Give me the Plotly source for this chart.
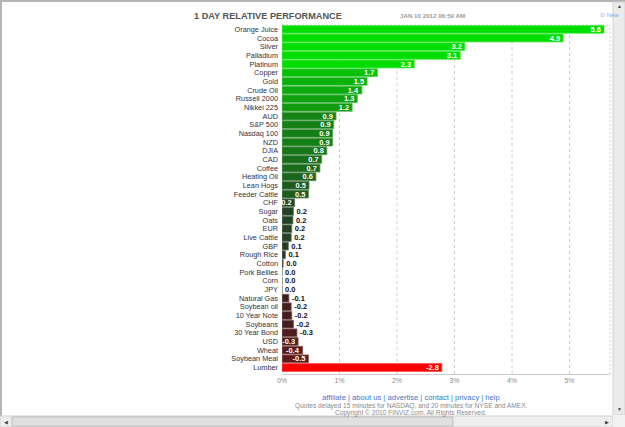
import plotly.graph_objects as go

names = ["Orange Juice", "Cocoa", "Silver", "Palladium", "Platinum", "Copper", "Gold",
         "Crude Oil", "Russell 2000", "Nikkei 225", "AUD", "S&P 500", "Nasdaq 100", "NZD",
         "DJIA", "CAD", "Coffee", "Heating Oil", "Lean Hogs", "Feeder Cattle", "CHF",
         "Sugar", "Oats", "EUR", "Live Cattle", "GBP", "Rough Rice", "Cotton",
         "Pork Bellies", "Corn", "JPY", "Natural Gas", "Soybean oil", "10 Year Note",
         "Soybeans", "30 Year Bond", "USD", "Wheat", "Soybean Meal", "Lumber"]
values = [5.6, 4.89, 3.18, 3.1, 2.3, 1.66, 1.48, 1.39, 1.31, 1.22, 0.94, 0.9, 0.88, 0.88,
          0.78, 0.69, 0.66, 0.59, 0.47, 0.46, 0.22, 0.2, 0.19, 0.17, 0.16, 0.11, 0.06, 0.02,
          0.0, 0.0, 0.0, -0.12, -0.16, -0.17, -0.2, -0.26, -0.28, -0.36, -0.46, -2.78]
x_ticks = [0, 1, 2, 3, 4, 5]
x_tick_text = ["0%", "1%", "2%", "3%", "4%", "5%"]

W, H = 625, 427
L, R, T, B = 282, 15, 25, 53
PW, PH = W - L - R, H - T - B
FONT = "Liberation Sans, Arial, sans-serif"


def pxx(x):
    return (x - L) / PW


def pxy(y):
    return (H - B - y) / PH


def mix_rgb(c0, c1, t):
    t = max(0.0, min(1.0, t))
    return tuple(round(a + (b - a) * t) for a, b in zip(c0, c1))


def rgb(c):
    return "rgb(%d,%d,%d)" % c


def base_color(v):
    if v >= 0:
        return mix_rgb((40, 50, 40), (0, 222, 0), v / 2.0)
    return mix_rgb((52, 32, 32), (250, 0, 0), -v / 2.0)


mags = [abs(v) for v in values]
labels = ["%.1f" % v for v in values]
colors = [rgb(base_color(v)) for v in values]
edge_colors = [rgb(mix_rgb(base_color(v), (255, 255, 255), 0.3)) for v in values]
inside = [abs(v) * 57.5 >= len(t) * 3.4 + 1.5 for v, t in zip(values, labels)]
positions = ["inside" if i else "outside" for i in inside]
text_colors = ["white" if i else "#111122" for i in inside]

fig = go.Figure()
fig.add_trace(go.Bar(
    x=mags, y=names, orientation="h",
    marker=dict(color=colors, line=dict(width=0.8, color=edge_colors)),
    text=labels, textposition=positions, insidetextanchor="end",
    textfont=dict(family=FONT, size=7.5, color=text_colors, weight="bold"),
    constraintext="none", cliponaxis=False,
    hoverinfo="skip", showlegend=False,
))

shapes = []
for xv in x_ticks[1:]:
    shapes.append(dict(type="line", xref="x", yref="paper", x0=xv, x1=xv, y0=0, y1=1,
                       line=dict(color="#cccccc", width=1, dash="3px,3px"), layer="below"))
shapes.append(dict(type="line", xref="paper", yref="paper", x0=0, x1=1, y0=1, y1=1,
                   line=dict(color="#d0d0d0", width=1, dash="2px,2px"), layer="below"))
shapes.append(dict(type="line", xref="paper", yref="paper", x0=1, x1=1, y0=0, y1=1,
                   line=dict(color="#d0d0d0", width=1, dash="2px,2px"), layer="below"))


def rect(x0, y0, x1, y1, fill, line=None):
    shapes.append(dict(type="rect", xref="paper", yref="paper",
                       x0=pxx(x0), x1=pxx(x1), y0=pxy(y1), y1=pxy(y0),
                       fillcolor=fill, line=dict(color=line or fill, width=1 if line else 0),
                       layer="above"))


rect(0, 0, 2, 427, "#b4b4b4")
rect(0, 0, 625, 2, "#b4b4b4")
rect(613, 2, 625, 415, "#ebebeb", "#d2d2d2")
rect(0, 416, 613, 427, "#eeeeee", "#d2d2d2")
rect(12, 417, 453, 426, "#e0e0e0", "#bdbdbd")
rect(613, 415, 625, 427, "#f2f2f2")

annotations = [
    dict(x=pxx(192), y=pxy(16), text="<b>1 DAY RELATIVE PERFORMANCE</b>", xanchor="left",
         yanchor="middle", font=dict(family=FONT, size=9.2, color="#555555")),
    dict(x=pxx(398), y=pxy(15), text="<b>JAN 10 2012 06:59 AM</b>", xanchor="left",
         yanchor="middle", font=dict(family=FONT, size=6.2, color="#9a9a9a")),
    dict(x=pxx(598), y=pxy(15), text="⊙ New", xanchor="left", yanchor="middle",
         font=dict(family=FONT, size=6, color="#7aaae6")),
    dict(x=pxx(411), y=pxy(397), text="affiliate | about us | advertise | contact | privacy | help",
         xanchor="center", yanchor="middle", font=dict(family=FONT, size=7.6, color="#3a78c8")),
    dict(x=pxx(411), y=pxy(406), text="Quotes delayed 15 minutes for NASDAQ, and 20 minutes for NYSE and AMEX.",
         xanchor="center", yanchor="middle", font=dict(family=FONT, size=6.6, color="#8a8a8a")),
    dict(x=pxx(411), y=pxy(413), text="Copyright © 2010 FINVIZ.com. All Rights Reserved.",
         xanchor="center", yanchor="middle", font=dict(family=FONT, size=6.6, color="#8a8a8a")),
    dict(x=pxx(619), y=pxy(6), text="▲", xanchor="center", yanchor="middle",
         font=dict(size=5, color="#444444")),
    dict(x=pxx(619), y=pxy(409), text="▼", xanchor="center", yanchor="middle",
         font=dict(size=5, color="#444444")),
    dict(x=pxx(6), y=pxy(421.5), text="◀", xanchor="center", yanchor="middle",
         font=dict(size=5, color="#444444")),
    dict(x=pxx(607), y=pxy(421.5), text="▶", xanchor="center", yanchor="middle",
         font=dict(size=5, color="#444444")),
]
for a in annotations:
    a.update(xref="paper", yref="paper", showarrow=False)

fig.update_layout(
    width=W, height=H,
    margin=dict(l=L, r=R, t=T, b=B, autoexpand=False),
    paper_bgcolor="white", plot_bgcolor="white",
    bargap=0.1,
    uniformtext=dict(minsize=7.5, mode="show"),
    shapes=shapes, annotations=annotations,
    xaxis=dict(range=[0, PW / 57.5], tickvals=x_ticks, ticktext=x_tick_text,
               showgrid=False, zeroline=False, showline=True, linecolor="#cccccc",
               ticks="", tickfont=dict(family=FONT, size=7, color="#8a8a8a"),
               fixedrange=True),
    yaxis=dict(categoryorder="array", categoryarray=names,
               tickmode="array", tickvals=names, ticktext=names,
               range=[39.75, -0.5], showgrid=False, zeroline=False, showline=False,
               ticks="", ticklabelstandoff=3,
               tickfont=dict(family=FONT, size=7.3, color="#333340"), fixedrange=True),
    showlegend=False,
)

fig.write_html("out.html", config={"displayModeBar": False})
